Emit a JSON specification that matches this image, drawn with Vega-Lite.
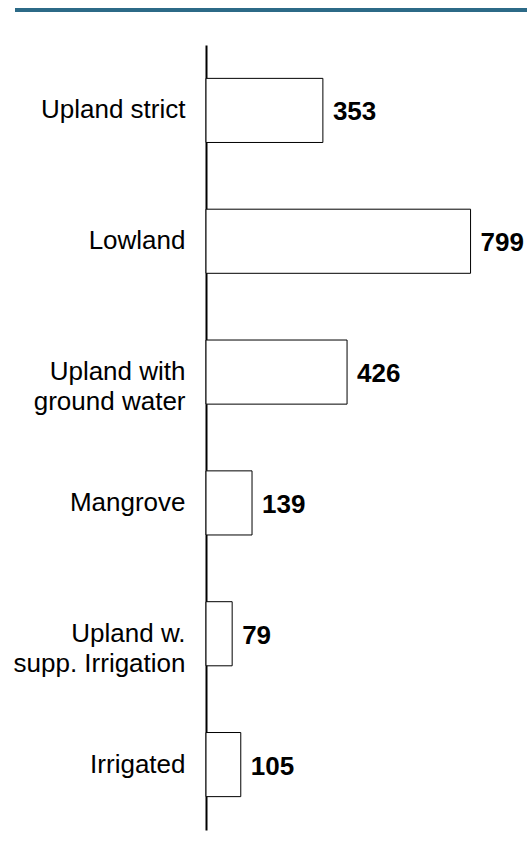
{
  "$schema": "https://vega.github.io/schema/vega-lite/v6.json",
  "padding": {"left": 13, "top": 7, "right": 0, "bottom": 5},
  "background": "white",
  "spacing": 32,
  "config": {"view": {"stroke": null}},
  "vconcat": [
    {
      "width": 321,
      "height": 4,
      "view": {"fill": "#2c6a87", "stroke": null},
      "data": {"values": [{"v": 0.5}]},
      "mark": {"type": "point", "opacity": 0},
      "encoding": {
        "y": {
          "field": "v",
          "type": "quantitative",
          "scale": {"domain": [0, 1], "nice": false, "zero": false},
          "axis": {
            "values": [0.5],
            "labels": false,
            "domain": false,
            "grid": false,
            "ticks": true,
            "tickSize": 191,
            "tickWidth": 4,
            "tickColor": "#2c6a87",
            "tickCap": "butt",
            "translate": 0,
            "title": null,
            "minExtent": 0
          }
        }
      }
    },
    {
      "width": 298,
      "height": 785,
      "data": {
        "values": [
          {"category": "Upland strict", "value": 353},
          {"category": "Lowland", "value": 799},
          {"category": "Upland with\nground water", "value": 426},
          {"category": "Mangrove", "value": 139},
          {"category": "Upland w.\nsupp. Irrigation", "value": 79},
          {"category": "Irrigated", "value": 105}
        ]
      },
      "encoding": {
        "y": {
          "field": "category",
          "type": "nominal",
          "sort": null,
          "scale": {"paddingInner": 0.51, "paddingOuter": 0.255},
          "axis": {
            "title": null,
            "ticks": false,
            "labelPadding": 21,
            "labelFont": "Liberation Sans",
            "labelFontSize": 26,
            "labelColor": "black",
            "labelLimit": 400,
            "labelLineHeight": 30,
            "labelExpr": "split(datum.label, '\\n')",
            "domainColor": "black",
            "domainWidth": 2
          }
        },
        "x": {
          "field": "value",
          "type": "quantitative",
          "scale": {"domain": [0, 900], "nice": false},
          "axis": null
        }
      },
      "layer": [
        {
          "mark": {"type": "bar", "fill": "white", "stroke": "black", "strokeWidth": 1}
        },
        {
          "mark": {
            "type": "text",
            "align": "left",
            "baseline": "middle",
            "dx": 10,
            "dy": 2,
            "font": "Liberation Sans",
            "fontWeight": "bold",
            "fontSize": 26,
            "color": "black"
          },
          "encoding": {"text": {"field": "value", "type": "quantitative"}}
        }
      ]
    }
  ]
}
